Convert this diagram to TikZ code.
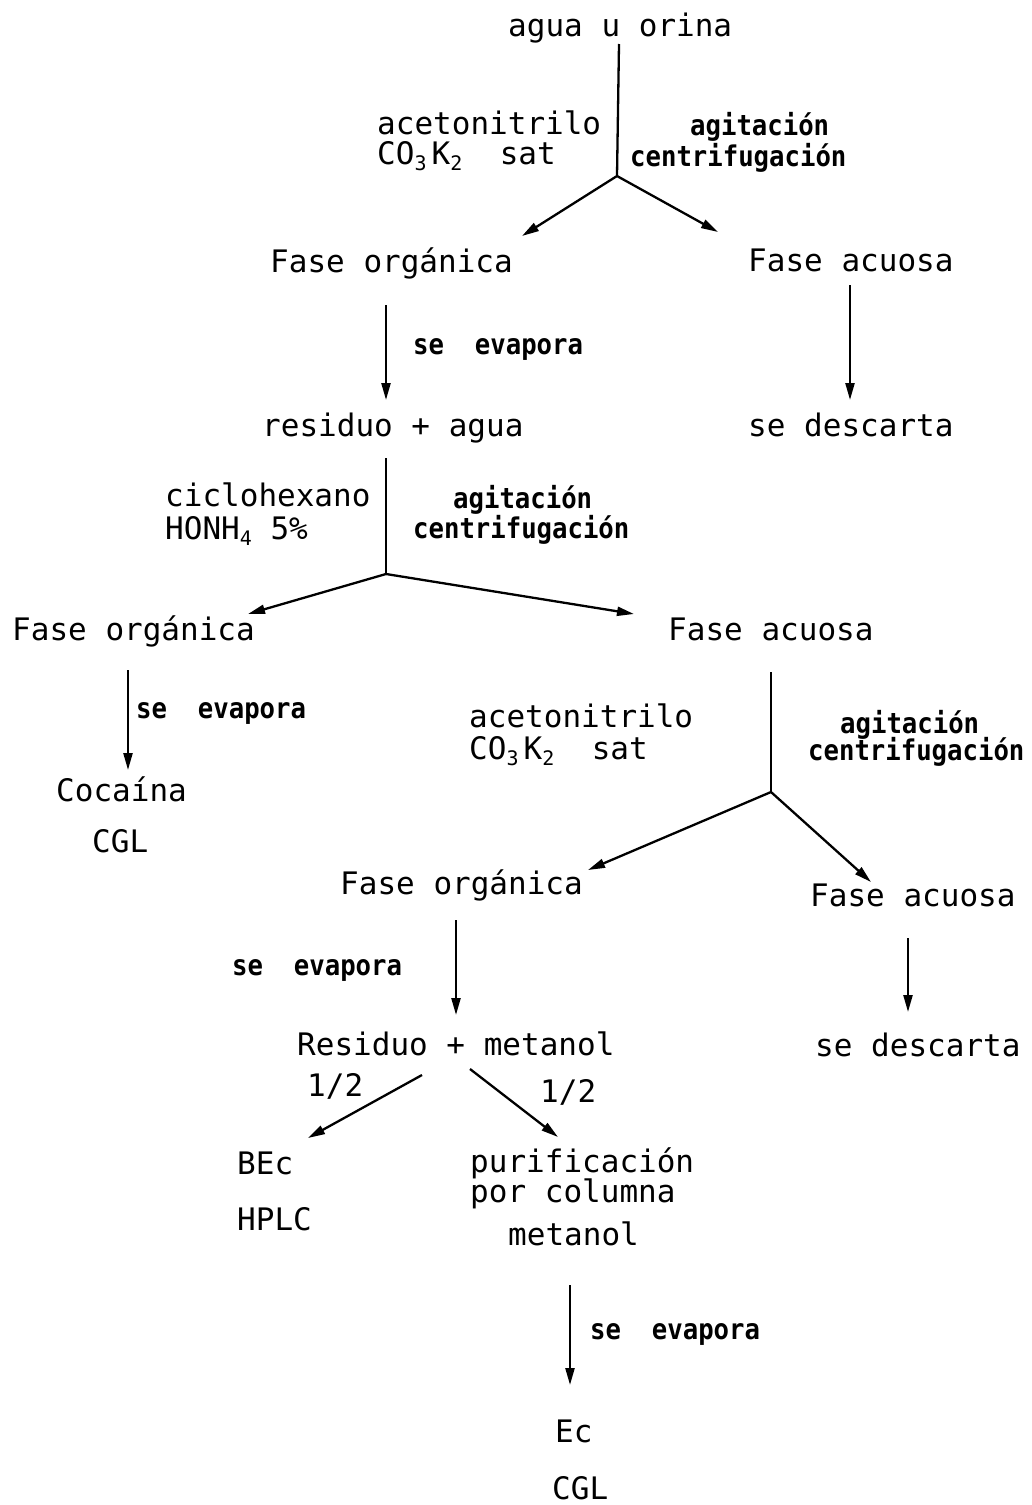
\documentclass[tikz,border=0pt]{standalone}
\usepackage{fontspec}
\usetikzlibrary{arrows.meta}
\newfontfamily\monof{DejaVu Sans Mono}
\newfontfamily\monobf{DejaVu Sans Mono Bold}[FakeStretch=0.9]
\newcommand{\lowsub}[1]{\raisebox{-0.2em}{\fontsize{20}{20}\selectfont #1}}
\begin{document}
\begin{tikzpicture}[x=1pt,y=-1pt,
  rt/.style={font=\monof\fontsize{31}{31}\selectfont, anchor=base west, inner sep=0pt},
  bt/.style={font=\monobf\fontsize{28.5}{29}\selectfont, anchor=base west, inner sep=0pt},
  ln/.style={line width=2.3pt},
  arr/.style={line width=2.3pt, -{Triangle[length=17pt,width=9pt]}}]
\useasboundingbox (0,0) rectangle (1032,1505);

% --- first extraction ---
\node[rt] (src) at (508,36) {agua u orina};
\node[rt] (r1a) at (377,134) {acetonitrilo};
\node[rt] (r1b) at (377,164) {CO\lowsub{3}\,K\lowsub{2}~~sat};
\node[bt] (c1a) at (690,135) {agitación};
\node[bt] (c1b) at (630,166) {centrifugación};
\node[rt] (org1) at (270,272) {Fase orgánica};
\node[rt] (aq1) at (748,271) {Fase acuosa};
\coordinate (s1) at (619,44);
\coordinate (j1) at (617,176);
\coordinate (e1l) at (522,236);
\coordinate (e1r) at (718,232);
\draw[ln] (s1) -- (j1);
\draw[arr] (j1) -- (e1l);
\draw[arr] (j1) -- (e1r);

% --- evaporation / discard ---
\node[bt] (ev1) at (413,354) {se~~evapora};
\node[rt] (res1) at (262,436) {residuo + agua};
\node[rt] (dis1) at (748,436) {se descarta};
\coordinate (o1s) at (386,305);
\coordinate (res1n) at (386,400);
\coordinate (a1s) at (850,285);
\coordinate (dis1n) at (850,400);
\draw[arr] (o1s) -- (res1n);
\draw[arr] (a1s) -- (dis1n);

% --- cyclohexane extraction ---
\node[rt] (r2a) at (165,506) {ciclohexano};
\node[rt] (r2b) at (165,539) {HONH\lowsub{4} 5\%};
\node[bt] (c2a) at (453,508) {agitación};
\node[bt] (c2b) at (413,538) {centrifugación};
\node[rt] (org2) at (12,640) {Fase orgánica};
\node[rt] (aq2) at (668,640) {Fase acuosa};
\coordinate (s2) at (386,458);
\coordinate (j2) at (386,574);
\coordinate (e2l) at (248,614);
\coordinate (e2r) at (634,614);
\draw[ln] (s2) -- (j2);
\draw[arr] (j2) -- (e2l);
\draw[arr] (j2) -- (e2r);

% --- cocaine branch ---
\node[bt] (ev2) at (136,718) {se~~evapora};
\node[rt] (coc) at (56,801) {Cocaína};
\node[rt] (cgl1) at (92,852) {CGL};
\coordinate (o2s) at (128,670);
\coordinate (cocn) at (128,770);
\draw[arr] (o2s) -- (cocn);

% --- second acetonitrile extraction ---
\node[rt] (r3a) at (469,727) {acetonitrilo};
\node[rt] (r3b) at (469,759) {CO\lowsub{3}\,K\lowsub{2}~~sat};
\node[bt] (c3a) at (840,733) {agitación};
\node[bt] (c3b) at (808,760) {centrifugación};
\node[rt] (org3) at (340,894) {Fase orgánica};
\node[rt] (aq3) at (810,906) {Fase acuosa};
\coordinate (s3) at (771,672);
\coordinate (j3) at (771,792);
\coordinate (e3l) at (588,870);
\coordinate (e3r) at (871,882);
\draw[ln] (s3) -- (j3);
\draw[arr] (j3) -- (e3l);
\draw[arr] (j3) -- (e3r);

% --- residue in methanol / discard ---
\node[bt] (ev3) at (232,975) {se~~evapora};
\node[rt] (res2) at (297,1055) {Residuo + metanol};
\node[rt] (dis2) at (815,1056) {se descarta};
\coordinate (o3s) at (456,920);
\coordinate (res2n) at (456,1015);
\coordinate (a3s) at (908,938);
\coordinate (dis2n) at (908,1012);
\draw[arr] (o3s) -- (res2n);
\draw[arr] (a3s) -- (dis2n);

% --- split in halves ---
\node[rt] (h1) at (307,1096) {1/2};
\node[rt] (h2) at (540,1102) {1/2};
\node[rt] (bec) at (237,1174) {BEc};
\node[rt] (hplc) at (237,1230) {HPLC};
\node[rt] (pur1) at (470,1172) {purificación};
\node[rt] (pur2) at (470,1202) {por columna};
\node[rt] (pur3) at (508,1245) {metanol};
\coordinate (sl) at (422,1075);
\coordinate (becn) at (308,1138);
\coordinate (sr) at (470,1069);
\coordinate (purn) at (558,1137);
\draw[arr] (sl) -- (becn);
\draw[arr] (sr) -- (purn);

% --- final evaporation ---
\node[bt] (ev4) at (590,1339) {se~~evapora};
\node[rt] (ec) at (555,1442) {Ec};
\node[rt] (cgl2) at (552,1499) {CGL};
\coordinate (p3s) at (570,1285);
\coordinate (ecn) at (570,1385);
\draw[arr] (p3s) -- (ecn);
\end{tikzpicture}
\end{document}
